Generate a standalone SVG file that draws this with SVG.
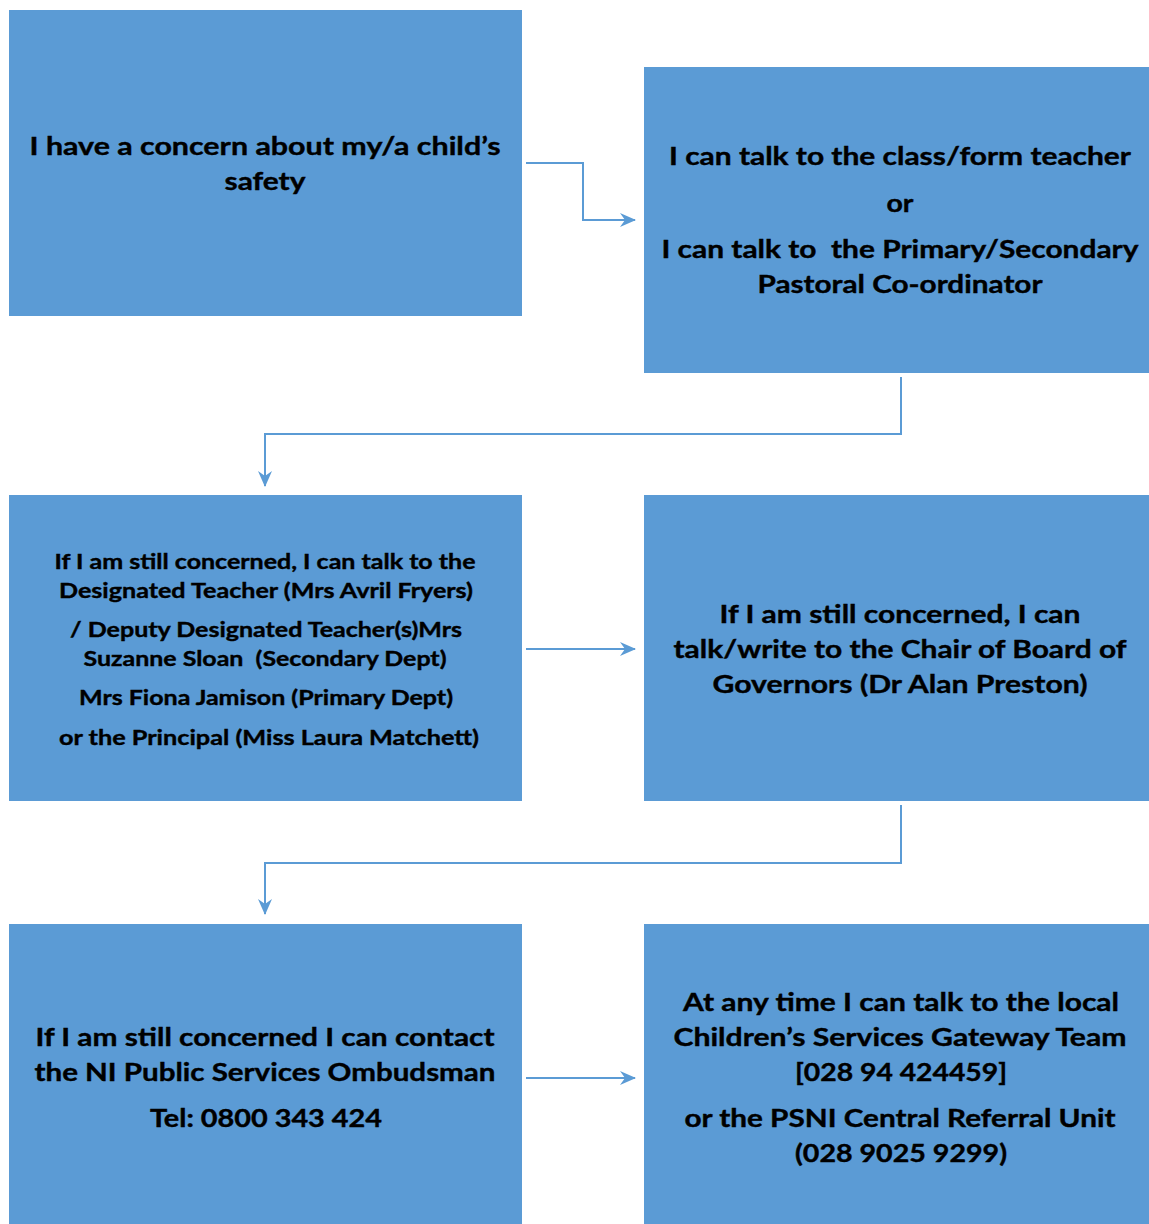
<svg xmlns="http://www.w3.org/2000/svg" width="1149" height="1224" viewBox="0 0 1149 1224">
<style>
.box{fill:#5B9BD5;}
.t{font-family:"Lato","Open Sans",sans-serif;font-weight:bold;fill:#000;stroke:#000;stroke-width:0.4;text-anchor:middle;font-size:25px;}
.s{font-size:21px;}
.c{fill:none;stroke:#5B9BD5;stroke-width:2;}
</style>
<defs>
<marker id="ah" viewBox="0 0 16 14" refX="15" refY="7" markerWidth="16" markerHeight="14" markerUnits="userSpaceOnUse" orient="auto">
<path d="M0,0 L16,7 L0,14 L5,7 Z" fill="#5B9BD5"/>
</marker>
</defs>
<rect width="1149" height="1224" fill="#fff"/>
<g id="n1"><rect class="box" x="9" y="10" width="513" height="306"/>
<text class="t" x="265" y="155" textLength="471" lengthAdjust="spacingAndGlyphs">I have a concern about my/a child’s</text>
<text class="t" x="265" y="190" textLength="81" lengthAdjust="spacingAndGlyphs">safety</text></g>
<g id="n2"><rect class="box" x="644" y="67" width="505" height="306"/>
<text class="t" x="900" y="165" textLength="462" lengthAdjust="spacingAndGlyphs">I can talk to the class/form teacher</text>
<text class="t" x="900" y="212" textLength="27" lengthAdjust="spacingAndGlyphs">or</text>
<text class="t" x="900" y="258" textLength="477" lengthAdjust="spacingAndGlyphs" xml:space="preserve">I can talk to  the Primary/Secondary</text>
<text class="t" x="900" y="293" textLength="285" lengthAdjust="spacingAndGlyphs">Pastoral Co-ordinator</text></g>
<g id="n3"><rect class="box" x="9" y="495" width="513" height="306"/>
<text class="t s" x="265" y="569" textLength="421" lengthAdjust="spacingAndGlyphs">If I am still concerned, I can talk to the</text>
<text class="t s" x="266" y="598" textLength="414" lengthAdjust="spacingAndGlyphs">Designated Teacher (Mrs Avril Fryers)</text>
<text class="t s" x="266" y="637" textLength="392" lengthAdjust="spacingAndGlyphs">/ Deputy Designated Teacher(s)Mrs</text>
<text class="t s" x="265" y="666" textLength="363" lengthAdjust="spacingAndGlyphs" xml:space="preserve">Suzanne Sloan  (Secondary Dept)</text>
<text class="t s" x="266" y="705" textLength="374" lengthAdjust="spacingAndGlyphs">Mrs Fiona Jamison (Primary Dept)</text>
<text class="t s" x="269" y="745" textLength="420" lengthAdjust="spacingAndGlyphs">or the Principal (Miss Laura Matchett)</text></g>
<g id="n4"><rect class="box" x="644" y="495" width="505" height="306"/>
<text class="t" x="900" y="623" textLength="361" lengthAdjust="spacingAndGlyphs">If I am still concerned, I can</text>
<text class="t" x="900" y="658" textLength="453" lengthAdjust="spacingAndGlyphs">talk/write to the Chair of Board of</text>
<text class="t" x="900" y="693" textLength="375" lengthAdjust="spacingAndGlyphs">Governors (Dr Alan Preston)</text></g>
<g id="n5"><rect class="box" x="9" y="924" width="513" height="300"/>
<text class="t" x="265" y="1046" textLength="459" lengthAdjust="spacingAndGlyphs">If I am still concerned I can contact</text>
<text class="t" x="265" y="1081" textLength="461" lengthAdjust="spacingAndGlyphs">the NI Public Services Ombudsman</text>
<text class="t" x="266" y="1127" textLength="232" lengthAdjust="spacingAndGlyphs">Tel: 0800 343 424</text></g>
<g id="n6"><rect class="box" x="644" y="924" width="505" height="300"/>
<text class="t" x="901" y="1011" textLength="436" lengthAdjust="spacingAndGlyphs">At any time I can talk to the local</text>
<text class="t" x="900" y="1046" textLength="453" lengthAdjust="spacingAndGlyphs">Children’s Services Gateway Team</text>
<text class="t" x="901" y="1081" textLength="212" lengthAdjust="spacingAndGlyphs">[028 94 424459]</text>
<text class="t" x="900" y="1127" textLength="431" lengthAdjust="spacingAndGlyphs">or the PSNI Central Referral Unit</text>
<text class="t" x="901" y="1162" textLength="212" lengthAdjust="spacingAndGlyphs">(028 9025 9299)</text></g>
<g id="connectors">
<path class="c" d="M526,163 H583 V220 H635" marker-end="url(#ah)"/>
<path class="c" d="M901,377 V434 H265 V486" marker-end="url(#ah)"/>
<path class="c" d="M526,649 H635" marker-end="url(#ah)"/>
<path class="c" d="M901,805 V863 H265 V914" marker-end="url(#ah)"/>
<path class="c" d="M526,1078 H635" marker-end="url(#ah)"/>
</g>
</svg>
